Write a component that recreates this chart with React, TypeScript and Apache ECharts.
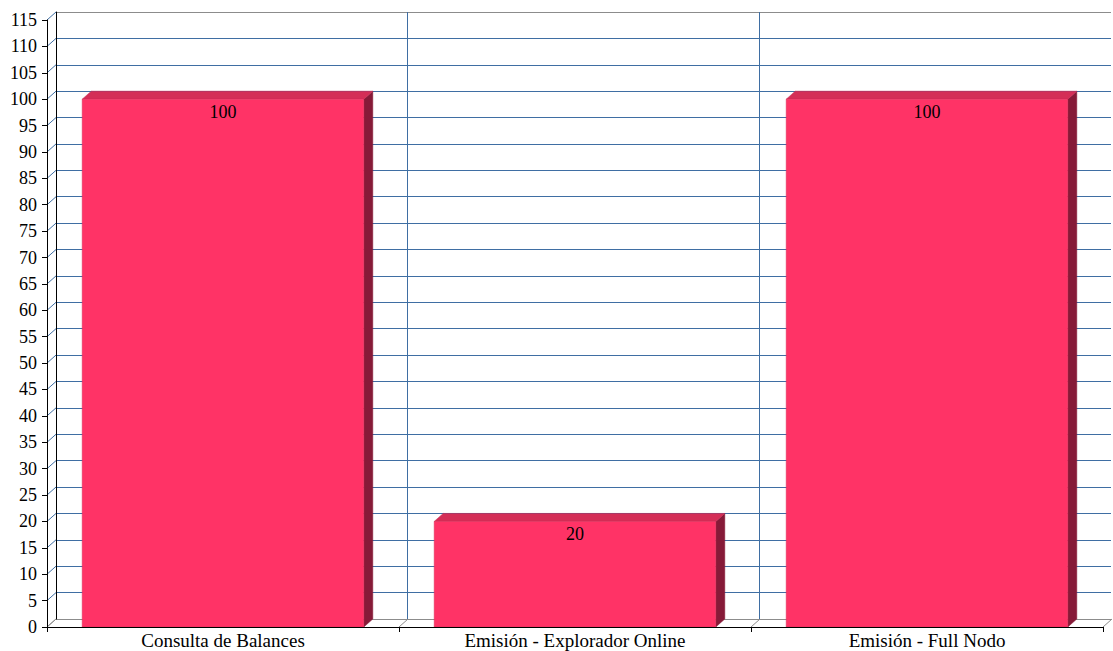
import React, { useEffect, useRef } from "react";
import * as echarts from "echarts";

const categories = ["Consulta de Balances", "Emisión - Explorador Online", "Emisión - Full Nodo"];
const values = [100, 20, 100];
const yTicks = [0, 5, 10, 15, 20, 25, 30, 35, 40, 45, 50, 55, 60, 65, 70, 75, 80, 85, 90, 95, 100, 105, 110, 115];
const boundaries = [0, 1, 2, 3];

const DX = 9;
const DY = 8;
const FONT = "Liberation Serif";
const BLUE = "#3f6ea3";
const GRAY = "#8c8c8c";

export default function App() {
  const ref = useRef<HTMLDivElement>(null);
  useEffect(() => {
    if (!ref.current) return;
    const chart = echarts.init(ref.current, undefined, { renderer: "svg" });
    const backColors = yTicks.map((_, i) => (i === 0 || i === yTicks.length - 1 ? GRAY : BLUE));
    const option: any = {
      animation: false,
      backgroundColor: "#ffffff",
      textStyle: { fontFamily: FONT },
      grid: [
        { left: 47, top: 20, width: 1056, height: 607 },
        { left: 56, top: 12, width: 1055, height: 607 },
      ],
      xAxis: [
        {
          type: "category",
          gridIndex: 0,
          data: categories,
          axisLine: { show: true, lineStyle: { color: "#000", width: 1 } },
          axisTick: { show: true, length: 5, lineStyle: { color: "#000" } },
          axisLabel: { color: "#000", fontSize: 19, fontFamily: FONT, margin: 4 },
          splitLine: { show: false },
          z: 5,
        },
        {
          type: "value",
          gridIndex: 1,
          min: 0,
          max: 3,
          interval: 1,
          axisLine: { show: false },
          axisTick: { show: false },
          axisLabel: { show: false },
          splitLine: {
            show: true,
            lineStyle: { color: ["rgba(0,0,0,0)", BLUE, BLUE, "rgba(0,0,0,0)"], width: 1 },
          },
        },
      ],
      yAxis: [
        {
          type: "value",
          gridIndex: 0,
          min: 0,
          max: 115,
          interval: 5,
          axisLine: { show: true, lineStyle: { color: "#000", width: 1 } },
          axisTick: { show: true, length: 5, lineStyle: { color: "#000" } },
          axisLabel: { color: "#000", fontSize: 18, fontFamily: FONT, margin: 10 },
          splitLine: { show: false },
          z: 5,
        },
        {
          type: "value",
          gridIndex: 1,
          min: 0,
          max: 115,
          interval: 5,
          axisLine: { show: true, lineStyle: { color: "#000", width: 1 } },
          axisTick: { show: false },
          axisLabel: { show: false },
          splitLine: { show: true, lineStyle: { color: backColors, width: 1 } },
        },
      ],
      series: [
        {
          type: "custom",
          xAxisIndex: 1,
          yAxisIndex: 1,
          data: [],
          renderItem: () => null,
        },
        {
          type: "custom",
          xAxisIndex: 0,
          yAxisIndex: 0,
          z: 1,
          silent: true,
          data: yTicks.map((v) => [0, v]),
          renderItem: (params: any, api: any) => {
            const cs = params.coordSys;
            const v = api.value(1);
            const y = api.coord([0, v])[1];
            return {
              type: "line",
              shape: { x1: cs.x, y1: y, x2: cs.x + DX, y2: y - DY },
              style: { stroke: v === 0 ? GRAY : BLUE, lineWidth: 1 },
            };
          },
        },
        {
          type: "custom",
          xAxisIndex: 0,
          yAxisIndex: 0,
          z: 1,
          silent: true,
          data: boundaries.map((b) => [0, b]),
          renderItem: (params: any, api: any) => {
            const cs = params.coordSys;
            const b = api.value(1);
            const x = cs.x + (b * cs.width) / categories.length;
            const y = cs.y + cs.height;
            return {
              type: "line",
              shape: { x1: x, y1: y, x2: x + DX, y2: y - DY },
              style: { stroke: GRAY, lineWidth: 1 },
            };
          },
        },
        {
          type: "custom",
          xAxisIndex: 0,
          yAxisIndex: 0,
          z: 3,
          data: values.map((v, i) => [i, v]),
          renderItem: (params: any, api: any) => {
            const top = api.coord([api.value(0), api.value(1)]);
            const base = api.coord([api.value(0), 0]);
            const w = api.size([1, 0])[0] * 0.8;
            const l = top[0] - w / 2;
            const r = top[0] + w / 2;
            const t = top[1];
            const b = base[1];
            return {
              type: "group",
              children: [
                {
                  type: "polygon",
                  shape: { points: [[r, t], [r + DX, t - DY], [r + DX, b - DY], [r, b]] },
                  style: { fill: "#861a38", stroke: "#861a38", lineWidth: 0.5 },
                },
                {
                  type: "polygon",
                  shape: { points: [[l, t], [l + DX, t - DY], [r + DX, t - DY], [r, t]] },
                  style: { fill: "#d42e57", stroke: "#c42850", lineWidth: 0.5 },
                },
                {
                  type: "rect",
                  shape: { x: l, y: t, width: w, height: b - t },
                  style: { fill: "#ff3366", stroke: "#d82a56", lineWidth: 0.5 },
                },
                {
                  type: "text",
                  x: top[0],
                  y: t + 13,
                  style: {
                    text: String(api.value(1)),
                    fill: "#000",
                    fontSize: 18,
                    fontFamily: FONT,
                    align: "center",
                    verticalAlign: "middle",
                  },
                },
              ],
            };
          },
        },
      ],
    };
    chart.setOption(option);
    return () => chart.dispose();
  }, []);
  return (
    <div
      ref={ref}
      style={{ position: "absolute", left: 0, top: 0, width: 1113, height: 651, background: "#fff" }}
    />
  );
}
